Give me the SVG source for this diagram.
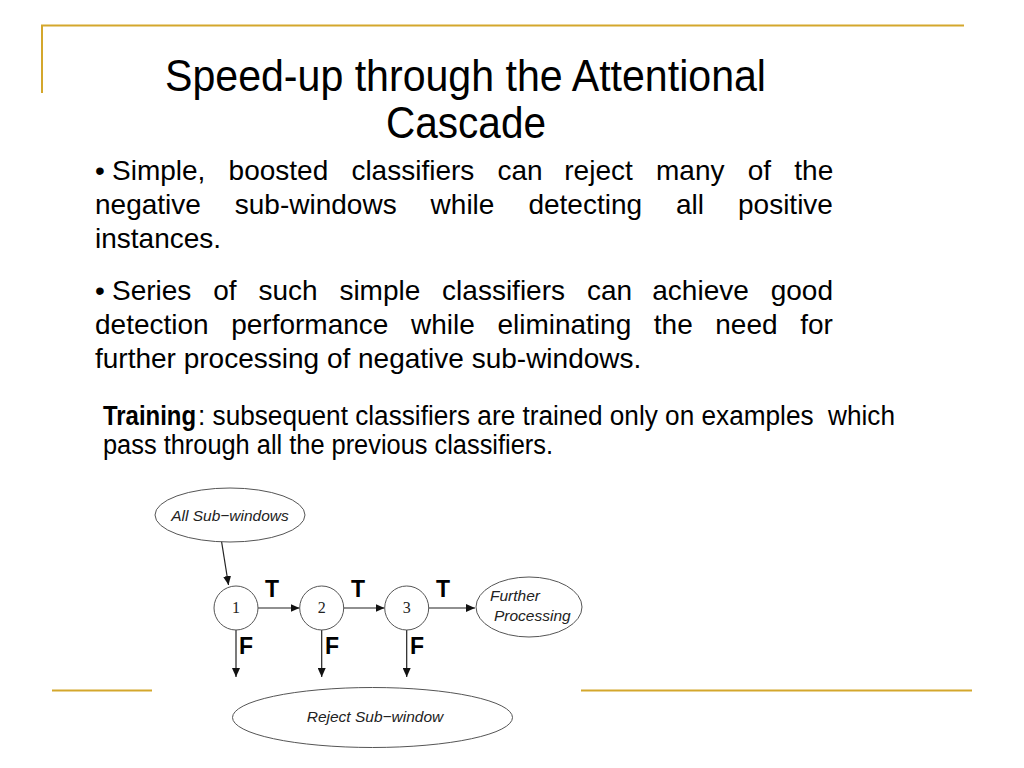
<svg xmlns="http://www.w3.org/2000/svg" width="1024" height="768" viewBox="0 0 1024 768">
<style>
.frame{stroke:#D4A72C;stroke-width:2;fill:none}
.title{font-family:"Liberation Sans",Arial,sans-serif;font-size:44px;fill:#000}
.body{font-family:"Liberation Sans",Arial,sans-serif;font-size:28px;fill:#000}
.train{font-family:"Liberation Sans",Arial,sans-serif;font-size:27px;fill:#000;white-space:pre}
.shape{fill:#fff;stroke:#555;stroke-width:1}
.lbl{font-family:"Liberation Sans",Arial,sans-serif;font-style:italic;font-size:15.5px;fill:#222}
.num{font-family:"Liberation Serif","Times New Roman",serif;font-size:16px;fill:#222;text-anchor:middle}
.tf{font-family:"Liberation Sans",Arial,sans-serif;font-weight:bold;font-size:23px;fill:#000}
.edge{stroke:#222;stroke-width:1.2;fill:none;marker-end:url(#arr)}
</style>
<defs>
<marker id="arr" markerUnits="userSpaceOnUse" markerWidth="10" markerHeight="8" refX="9" refY="4" orient="auto">
<path d="M0,0 L9,4 L0,8 Z" fill="#111"/>
</marker>
</defs>
<rect width="1024" height="768" fill="#fff"/>
<g id="frame">
<path class="frame" d="M42,93 V25.5 H964"/>
<line class="frame" x1="52" y1="690.5" x2="152" y2="690.5"/>
<line class="frame" x1="581" y1="690.5" x2="972" y2="690.5"/>
</g>
<g id="title">
<text class="title" x="165" y="91" textLength="601" lengthAdjust="spacingAndGlyphs">Speed-up through the Attentional</text>
<text class="title" x="386" y="138" textLength="160" lengthAdjust="spacingAndGlyphs">Cascade</text>
</g>
<g id="bullets" class="body">
<text y="180"><tspan x="95">•</tspan><tspan x="112">Simple,</tspan><tspan x="228.6">boosted</tspan><tspan x="351.4">classifiers</tspan><tspan x="497.5">can</tspan><tspan x="564.3">reject</tspan><tspan x="656">many</tspan><tspan x="747.7">of</tspan><tspan x="794.3">the</tspan></text>
<text y="214"><tspan x="95">negative</tspan><tspan x="234.8">sub-windows</tspan><tspan x="430.6">while</tspan><tspan x="528.4">detecting</tspan><tspan x="676">all</tspan><tspan x="738">positive</tspan></text>
<text x="95" y="248">instances.</text>
<text y="300"><tspan x="95">•</tspan><tspan x="112">Series</tspan><tspan x="213.2">of</tspan><tspan x="258.5">such</tspan><tspan x="339.4">simple</tspan><tspan x="442.1">classifiers</tspan><tspan x="586.9">can</tspan><tspan x="652.3">achieve</tspan><tspan x="770.7">good</tspan></text>
<text y="334"><tspan x="95">detection</tspan><tspan x="231.2">performance</tspan><tspan x="411">while</tspan><tspan x="497.4">eliminating</tspan><tspan x="653.8">the</tspan><tspan x="715.3">need</tspan><tspan x="800.2">for</tspan></text>
<text x="95" y="368">further processing of negative sub-windows.</text>
</g>
<g id="training">
<text class="train" x="103" y="425" font-weight="bold" textLength="93" lengthAdjust="spacingAndGlyphs">Training</text>
<text class="train" x="198" y="425" textLength="697" lengthAdjust="spacingAndGlyphs">: subsequent classifiers are trained only on examples  which</text>
<text class="train" x="103" y="454" textLength="450" lengthAdjust="spacingAndGlyphs">pass through all the previous classifiers.</text>
</g>
<g id="connectors">
<line class="edge" x1="221" y1="538" x2="228.5" y2="585"/>
<line class="edge" x1="258" y1="608" x2="299.5" y2="608"/>
<line class="edge" x1="344" y1="608" x2="384.5" y2="608"/>
<line class="edge" x1="429" y1="608" x2="475" y2="608"/>
<line class="edge" x1="236" y1="630" x2="236" y2="677"/>
<line class="edge" x1="321.7" y1="630" x2="321.7" y2="677"/>
<line class="edge" x1="406.7" y1="630" x2="406.7" y2="677"/>
<text class="tf" x="265" y="597">T</text>
<text class="tf" x="351" y="597">T</text>
<text class="tf" x="436" y="597">T</text>
<text class="tf" x="239" y="654">F</text>
<text class="tf" x="325" y="654">F</text>
<text class="tf" x="410" y="654">F</text>
</g>
<g id="node-all">
<ellipse class="shape" cx="230" cy="515" rx="75" ry="27"/>
<text class="lbl" x="230" y="521" text-anchor="middle">All Sub−windows</text>
</g>
<g id="node-1">
<circle class="shape" cx="236" cy="608" r="22"/>
<text class="num" x="236" y="613">1</text>
</g>
<g id="node-2">
<circle class="shape" cx="321.7" cy="608" r="22"/>
<text class="num" x="321.7" y="613">2</text>
</g>
<g id="node-3">
<circle class="shape" cx="406.7" cy="608" r="22"/>
<text class="num" x="406.7" y="613">3</text>
</g>
<g id="node-further">
<ellipse class="shape" cx="529" cy="607" rx="53" ry="30"/>
<text class="lbl" x="490" y="601">Further</text>
<text class="lbl" x="494" y="621">Processing</text>
</g>
<g id="node-reject">
<ellipse class="shape" cx="372.5" cy="717.5" rx="140" ry="30"/>
<text class="lbl" x="375" y="722" text-anchor="middle">Reject Sub−window</text>
</g>
</svg>
